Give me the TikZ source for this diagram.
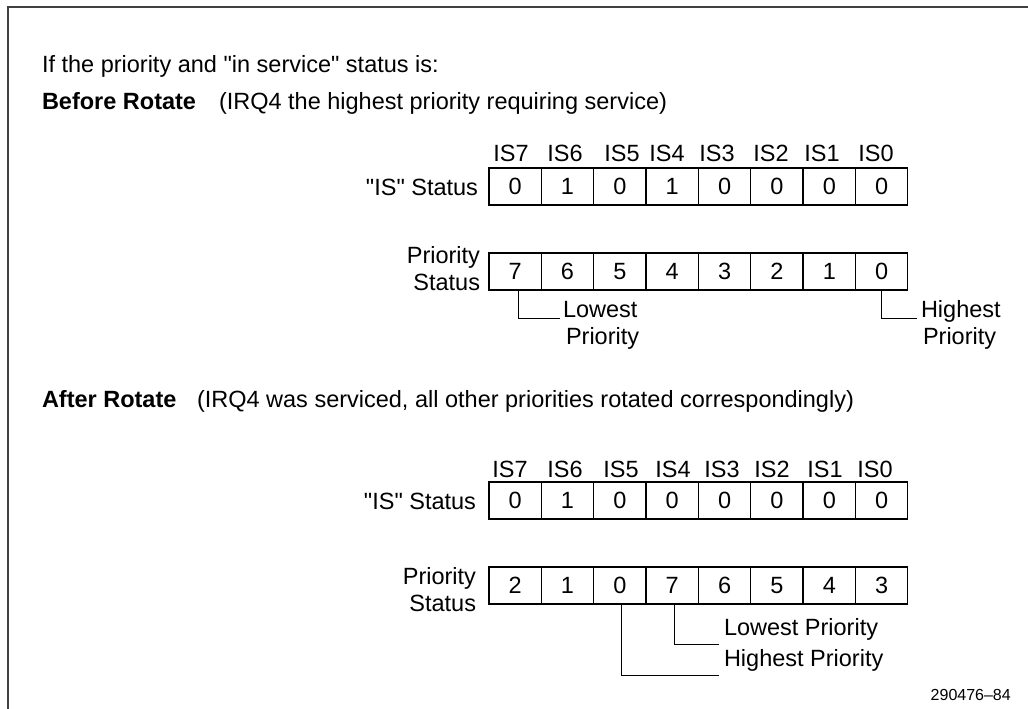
\documentclass[tikz,border=0pt]{standalone}
\usepackage{fontspec}
\newfontfamily\lib{Liberation Sans}
\begin{document}
\begin{tikzpicture}[x=1pt,y=-1pt,
  txt/.style={font=\lib\fontsize{23.5}{27}\selectfont, inner sep=0pt, outer sep=0pt},
  btxt/.style={txt, font=\lib\fontsize{23.5}{27}\selectfont\bfseries},
  cell/.style={draw, line width=1.3pt, minimum width=52.35pt, minimum height=37pt,
    inner sep=0pt, outer sep=0pt, anchor=north west, text height=16pt, text depth=0pt,
    font=\lib\fontsize{23.5}{27}\selectfont},
  conn/.style={line width=0.9pt},
  frame/.style={line width=2pt, draw=black!75}
]
\useasboundingbox (0,0) rectangle (1028,709);
\draw[frame] (1028,7.5) -- (7.5,7.5) -- (7.5,709);

% headings
\node[txt, anchor=base west] (intro) at (42,73) {If the priority and "in service" status is:};
\node[btxt, anchor=base west] (before) at (42,110) {Before Rotate};
\node[txt, anchor=base west] (beforenote) at (219,110) {(IRQ4 the highest priority requiring service)};
\node[btxt, anchor=base west] (after) at (42,407) {After Rotate};
\node[txt, anchor=base west] (afternote) at (197,407) {(IRQ4 was serviced, all other priorities rotated correspondingly)};

% ---------- before rotate ----------
\foreach \x/\t in {511/IS7,565/IS6,622/IS5,667/IS4,717/IS3,771/IS2,822/IS1,876/IS0}
  \node[txt, anchor=base] at (\x,161) {\t};
\node[txt, anchor=east] (tislab) at (478,187) {"IS" Status};
\foreach \v [count=\i from 0] in {0,1,0,1,0,0,0,0}
  \node[cell] (ta\i) at (489+\i*52.35,168) {\v};
\node[txt, anchor=east, align=right] (tplab) at (480,269) {Priority\\Status};
\foreach \v [count=\i from 0] in {7,6,5,4,3,2,1,0}
  \node[cell] (tp\i) at (489+\i*52.35,253) {\v};

\node[txt, anchor=base west] (lowA) at (563,317) {Lowest};
\node[txt, anchor=base west] (lowB) at (566,344) {Priority};
\draw[conn] ([xshift=3pt]tp0.south) |- ([xshift=-3pt,yshift=-1pt]lowA.base west);
\node[txt, anchor=base west] (highA) at (921,317) {Highest};
\node[txt, anchor=base west] (highB) at (923,344) {Priority};
\draw[conn] (tp7.south) |- ([xshift=-4pt,yshift=-1pt]highA.base west);

% ---------- after rotate ----------
\foreach \x/\t in {510/IS7,565/IS6,621/IS5,673/IS4,722/IS3,772/IS2,825/IS1,875/IS0}
  \node[txt, anchor=base] at (\x,477) {\t};
\node[txt, anchor=east] (bislab) at (476,501) {"IS" Status};
\foreach \v [count=\i from 0] in {0,1,0,0,0,0,0,0}
  \node[cell] (ba\i) at (489+\i*52.35,482) {\v};
\node[txt, anchor=east, align=right] (bplab) at (476,590) {Priority\\Status};
\foreach \v [count=\i from 0] in {2,1,0,7,6,5,4,3}
  \node[cell] (bp\i) at (489+\i*52.35,567) {\v};

\node[txt, anchor=base west] (blow) at (724,635) {Lowest Priority};
\draw[conn] ([xshift=2pt]bp3.south) |- ([xshift=-5pt,yshift=-9pt]blow.base west);
\node[txt, anchor=base west] (bhigh) at (724,666) {Highest Priority};
\draw[conn] ([xshift=2pt]bp2.south) |- ([xshift=-5pt,yshift=-9pt]bhigh.base west);

\node[font=\lib\fontsize{16}{19}\selectfont, inner sep=0pt, anchor=base east] (fig) at (1011,700) {290476–84};
\end{tikzpicture}
\end{document}
